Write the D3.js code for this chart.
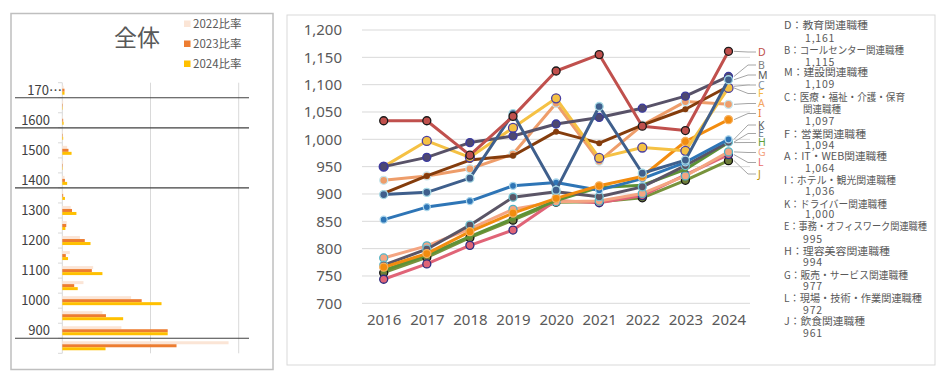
<!DOCTYPE html>
<html><head><meta charset="utf-8">
<script src="https://cdn.jsdelivr.net/npm/d3@7"></script>
<style>
body{margin:0;background:#fff;}
text{font-family:"Noto Sans CJK JP","Noto Sans",sans-serif;}
</style></head>
<body><svg id="c" width="950" height="380"></svg>
<script>
// ---------- left panel data ----------
const bandCats = ["1700","1650","1600","1550","1500","1450","1400","1350","1300","1250","1200","1150","1100","1050","1000","950","900","850"];
const bandLabels = ["170…","","1600","","1500","","1400","","1300","","1200","","1100","","1000","","900",""];
const ratio2022 = [0.3,0.2,0.1,0.1,1.1,0.2,0.5,0.2,1.9,1.0,4.0,1.7,7.0,4.8,15.6,9.1,13.4,37.7];
const ratio2023 = [0.5,0.1,0.2,0.1,1.4,0.1,0.6,0.2,2.2,0.9,5.1,0.8,6.7,2.7,18.0,9.9,23.9,25.9];
const ratio2024 = [0.5,0.1,0.3,0.2,2.1,0.1,1.1,0.6,3.2,0.7,6.4,1.3,9.1,3.5,22.5,13.8,23.9,9.8];
const barSeries = ["2022比率","2023比率","2024比率"];

// ---------- main chart data ----------
const years = ["2016","2017","2018","2019","2020","2021","2022","2023","2024"];
const yTicks = [700,750,800,850,900,950,1000,1050,1100,1150,1200];
const keys = ["D","B","M","C","F","A","I","K","E","H","G","L","J"];
const jobNames = ["教育関連職種","コールセンター関連職種","建設関連職種","医療・福祉・介護・保育|関連職種","営業関連職種","IT・WEB関連職種","ホテル・観光関連職種","ドライバー関連職種","事務・オフィスワーク関連職種","理容美容関連職種","販売・サービス関連職種","現場・技術・作業関連職種","飲食関連職種"];
const finalValues = ["1,161","1,115","1,109","1,097","1,094","1,064","1,036","1,000","995","994","977","972","961"];
const valD = [1034,1034,971,1042,1125,1155,1024,1016,1161];
const valB = [950,967,994,1006,1028,1040,1057,1079,1115];
const valM = [899,903,929,1047,907,1060,938,962,1109];
const valC = [901,933,962,970,1014,993,1026,1055,1097];
const valF = [950,997,967,1021,1075,966,985,979,1094];
const valA = [925,933,946,973,1066,960,1026,1069,1064];
const valI = [766,791,831,865,892,915,932,996,1036];
const valK = [853,876,887,915,921,907,928,958,1000];
const valE = [770,799,843,894,904,895,913,952,995];
const valH = [760,788,822,855,888,912,916,945,994];
const valG = [783,805,836,872,886,887,901,933,977];
const valL = [744,772,806,834,888,884,897,935,972];
const valJ = [756,784,820,852,885,886,893,925,961];
const seriesVals = {D:valD,B:valB,M:valM,C:valC,F:valF,A:valA,I:valI,K:valK,E:valE,H:valH,G:valG,L:valL,J:valJ};

// styles / layout (not data)
const st = {
 D:{line:"#C0504D",fill:"#C0504D",stroke:"#1a1a1a",r:4,lab:"#C0504D"},
 B:{line:"#585268",fill:"#4E4870",stroke:"#3A3AA0",r:4,lab:"#7F7F7F"},
 M:{line:"#3F5F8C",fill:"#3F5F8C",stroke:"#A4D8E4",r:4,lab:"#595959"},
 C:{line:"#843C0C",fill:"#843C0C",stroke:"none",r:3,lab:"#7F8FA0"},
 F:{line:"#F5C144",fill:"#F5C144",stroke:"#4B3FA0",r:4.5,lab:"#F4B942"},
 A:{line:"#EE9D6A",fill:"#EE9D6A",stroke:"#C5E6EE",r:4,lab:"#F4A460"},
 I:{line:"#F28C0F",fill:"#F28C0F",stroke:"#F6B060",r:4,lab:"#ED7D31"},
 K:{line:"#2E75B6",fill:"#2E75B6",stroke:"#A8D4EA",r:3.5,lab:"#595959"},
 E:{line:"#5B5566",fill:"#5B5566",stroke:"#70C0CF",r:4,lab:"#6F7F90"},
 H:{line:"#5E9236",fill:"#5E9236",stroke:"none",r:2.5,lab:"#5E9E3A"},
 G:{line:"#F4A582",fill:"#F4A582",stroke:"#4FB3C4",r:4,lab:"#F4A582"},
 L:{line:"#E06477",fill:"#E06477",stroke:"#2D2D7F",r:4,lab:"#E96B6B"},
 J:{line:"#77933C",fill:"#6E7D3A",stroke:"#111",r:4,lab:"#BF9000"}
};
const barColors = ["#FBE5D6","#ED7D31","#FFC000"];
const nameY = [25,50.7,72.7,97.3,134,156.7,180.7,204,226.7,251,275,298.3,321.7];
const nameW = [84,120,84,121,82,103,112,103,143,106,124,138,81];
const valueY = [38,62.7,84,121,145,168.3,191.7,214.3,239.3,262.7,286.7,310,333.3];
const labelY = [52,65,75,85,93.5,103.5,113.5,125,133.5,142.5,152.5,162.5,174];

const svg = d3.select("#c");

// ================= LEFT PANEL =================
svg.append("rect").attr("x",11).attr("y",13.5).attr("width",262).attr("height",356)
  .attr("fill","#fff").attr("stroke","#BFBFBF").attr("stroke-width",1.5);

const yb = d3.scaleBand().domain(bandCats).range([82.7,353.3]);
const xb = d3.scaleLinear().domain([0,40]).range([62.3,238.7]);
const inner = d3.scaleBand().domain(barSeries).range([3.0,12.0]);

[0,20,40].forEach(v=>{
  svg.append("line").attr("x1",xb(v)).attr("x2",xb(v)).attr("y1",82.7).attr("y2",353.3)
    .attr("stroke","#D9D9D9").attr("stroke-width",1);
});
bandCats.forEach(c=>{
  svg.append("line").attr("x1",58).attr("x2",xb(0)).attr("y1",yb(c)).attr("y2",yb(c))
    .attr("stroke","#D9D9D9");
});
svg.append("line").attr("x1",58).attr("x2",xb(0)).attr("y1",353.3).attr("y2",353.3).attr("stroke","#D9D9D9");

[ratio2022,ratio2023,ratio2024].forEach((arr,si)=>{
  svg.append("g").selectAll("rect").data(arr).join("rect")
    .attr("x",xb(0))
    .attr("y",(d,i)=>yb(bandCats[i])+inner(barSeries[si]))
    .attr("width",d=>Math.max(0,xb(d)-xb(0)))
    .attr("height",inner.bandwidth())
    .attr("fill",barColors[si]);
});
svg.append("g").selectAll("text").data(bandLabels).join("text")
  .attr("x",(d,i)=>i===0?62:50)
  .attr("y",(d,i)=>yb(bandCats[i])+yb.bandwidth()/2)
  .attr("dy","0.36em").attr("text-anchor","end")
  .attr("font-size",13).attr("fill","#404040").text(d=>d);

[["1700","1650"],["1600","1550"],["1400","1350"],["900","850"]].forEach(p=>{
  const yy = yb(p[1]);
  svg.append("line").attr("x1",15).attr("x2",249).attr("y1",yy).attr("y2",yy)
    .attr("stroke","#404040").attr("stroke-width",1.2);
});

svg.append("text").attr("x",137).attr("y",46).attr("text-anchor","middle")
  .attr("font-size",23).attr("fill","#595959").text("全体");
barSeries.forEach((s,i)=>{
  const yy = 24 + i*20;
  svg.append("rect").attr("x",184).attr("y",yy-3.5).attr("width",6.5).attr("height",6.5).attr("fill",barColors[i]);
  svg.append("text").attr("x",193).attr("y",yy).attr("dy","0.36em").attr("font-size",11.5)
    .attr("fill","#595959").text(s);
});

// ================= MAIN PANEL =================
svg.append("rect").attr("x",287).attr("y",15).attr("width",648).attr("height",350)
  .attr("fill","#fff").attr("stroke","#D9D9D9").attr("stroke-width",1);

const x = d3.scalePoint().domain(years).range([383.7,728.5]);
const y = d3.scaleLinear().domain([700,1200]).range([303.3,30]);

yTicks.forEach(t=>{
  svg.append("line").attr("x1",362).attr("x2",750).attr("y1",y(t)).attr("y2",y(t))
    .attr("stroke","#D9D9D9").attr("stroke-width",1);
});
const yAxis = svg.append("g").attr("transform","translate(342,0)")
  .call(d3.axisLeft(y).tickValues(yTicks).tickSize(0).tickPadding(0).tickFormat(d3.format(",")));
yAxis.select(".domain").remove();
yAxis.selectAll("text").attr("font-size",15).attr("fill","#595959")
  .style("font-family","'Noto Sans','DejaVu Sans',sans-serif");

const xAxis = svg.append("g").attr("transform","translate(0,311)")
  .call(d3.axisBottom(x).tickSize(0).tickPadding(0));
xAxis.select(".domain").remove();
xAxis.selectAll("text").attr("font-size",15).attr("fill","#595959").attr("dy","0.9em")
  .style("font-family","'Noto Sans','DejaVu Sans',sans-serif");

const line = d3.line().x((d,i)=>x(years[i])).y(d=>y(d));
const drawOrder = ["J","L","G","H","E","K","I","A","C","F","B","M","D"];
drawOrder.forEach(k=>{
  const s = st[k];
  const g = svg.append("g");
  g.append("path").attr("d",line(seriesVals[k])).attr("fill","none")
    .attr("stroke",s.line).attr("stroke-width",3).attr("stroke-linejoin","round");
  g.selectAll("circle").data(seriesVals[k]).join("circle")
    .attr("cx",(d,i)=>x(years[i])).attr("cy",d=>y(d)).attr("r",s.r)
    .attr("fill",s.fill).attr("stroke",s.stroke).attr("stroke-width",1.3);
});

// leader lines + letters
keys.forEach((k,i)=>{
  const vy = y(seriesVals[k][8]);
  svg.append("path").attr("d",`M734,${vy}L748,${labelY[i]}L756,${labelY[i]}`)
    .attr("fill","none").attr("stroke","#A6A6A6").attr("stroke-width",1);
  svg.append("text").attr("x",758).attr("y",labelY[i]).attr("dy","0.36em")
    .attr("font-size",10.5).attr("fill",st[k].lab)
    .style("font-family","'Noto Sans','DejaVu Sans',sans-serif").text(k);
});

// right list
keys.forEach((k,i)=>{
  const parts = jobNames[i].split("|");
  svg.append("text").attr("x",784).attr("y",nameY[i]).attr("dy","0.36em").attr("font-size",10.5)
    .attr("fill","#595959").attr("textLength",nameW[i]).attr("lengthAdjust","spacingAndGlyphs")
    .text(k+"："+parts[0]);
  if(parts[1]){
    svg.append("text").attr("x",803).attr("y",109).attr("dy","0.36em").attr("font-size",10.5)
      .attr("fill","#595959").attr("textLength",38).attr("lengthAdjust","spacingAndGlyphs").text(parts[1]);
  }
  svg.append("text").attr("x",finalValues[i].length>3?805:803).attr("y",valueY[i]).attr("dy","0.36em")
    .attr("font-size",10.5).attr("fill","#595959").attr("letter-spacing",0.8).text(finalValues[i]);
});
</script></body></html>
